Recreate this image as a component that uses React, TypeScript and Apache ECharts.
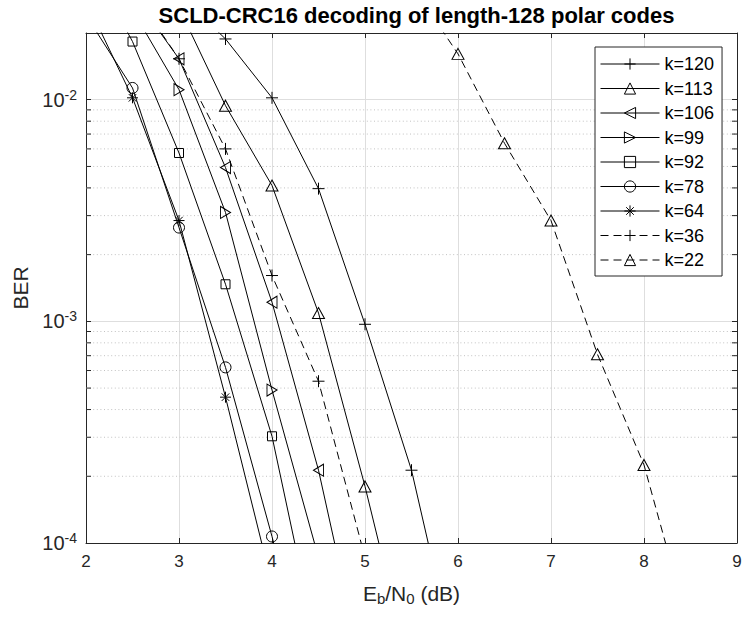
import React, { useEffect, useRef } from 'react';
import * as echarts from 'echarts';

// ---- data ----
const names = ['k=120', 'k=113', 'k=106', 'k=99', 'k=92', 'k=78', 'k=64', 'k=36', 'k=22'];

const ebn0_120 = [3, 3.5, 4, 4.5, 5, 5.5, 6];
const ber_120 = [0.03, 0.0188, 0.0102, 0.00397, 0.00097, 2.13e-4, 2.6e-5];

const ebn0_113 = [3, 3.5, 4, 4.5, 5, 5.5];
const ber_113 = [0.026, 0.0094, 0.0041, 0.00109, 1.8e-4, 2.5e-5];

const ebn0_106 = [2.5, 3, 3.5, 4, 4.5, 5];
const ber_106 = [0.03, 0.0153, 0.00494, 0.00122, 2.13e-4, 2.4e-5];

const ebn0_99 = [2.5, 3, 3.5, 4, 4.5];
const ber_99 = [0.0254, 0.0111, 0.0031, 4.9e-4, 8.6e-5];

const ebn0_92 = [2, 2.5, 3, 3.5, 4, 4.5];
const ber_92 = [0.045, 0.0183, 0.00575, 0.00147, 3.03e-4, 3.15e-5];

const ebn0_78 = [2, 2.5, 3, 3.5, 4, 4.5];
const ber_78 = [0.024, 0.0113, 0.00265, 6.2e-4, 1.07e-4, 1.6e-5];

const ebn0_64 = [2, 2.5, 3, 3.5, 4];
const ber_64 = [0.028, 0.0102, 0.00285, 4.55e-4, 6.5e-5];

const ebn0_36 = [2.5, 3, 3.5, 4, 4.5, 5];
const ber_36 = [0.031, 0.0153, 0.006, 0.00161, 5.37e-4, 8.6e-5];

const ebn0_22 = [5.5, 6, 6.5, 7, 7.5, 8, 8.5];
const ber_22 = [0.033, 0.0161, 0.00636, 0.00285, 7.1e-4, 2.25e-4, 3.9e-5];

// axis ranges
const X_MIN = 2;
const X_MAX = 9;
const Y_MIN = 1e-4;
const Y_MAX = 0.02;

// minor log ticks (2..9 x decade)
const decades = [1e-4, 1e-3, 1e-2];
const minorMultipliers = [2, 3, 4, 5, 6, 7, 8, 9];

const FONT = '"Liberation Sans", Arial, Helvetica, sans-serif';
const AX = '#262626';

const PLUS = 'path://M0,5L10,5M5,0L5,10';
const TRI_UP = 'path://M5,0L10,9L0,9Z';
const TRI_LEFT = 'path://M0,5L9,0L9,10Z';
const TRI_RIGHT = 'path://M9,5L0,0L0,10Z';
const STAR = 'path://M5,0L5,10M0,5L10,5M1.6,1.6L8.4,8.4M1.6,8.4L8.4,1.6';

const seriesDefs = [
  { name: names[0], x: ebn0_120, y: ber_120, symbol: PLUS, size: 12, dashed: false },
  { name: names[1], x: ebn0_113, y: ber_113, symbol: TRI_UP, size: [12, 11], dashed: false },
  { name: names[2], x: ebn0_106, y: ber_106, symbol: TRI_LEFT, size: [10, 12], dashed: false },
  { name: names[3], x: ebn0_99, y: ber_99, symbol: TRI_RIGHT, size: [10, 12], dashed: false },
  { name: names[4], x: ebn0_92, y: ber_92, symbol: 'rect', size: 9, dashed: false },
  { name: names[5], x: ebn0_78, y: ber_78, symbol: 'circle', size: 11, dashed: false },
  { name: names[6], x: ebn0_64, y: ber_64, symbol: STAR, size: 11, dashed: false },
  { name: names[7], x: ebn0_36, y: ber_36, symbol: PLUS, size: 12, dashed: true },
  { name: names[8], x: ebn0_22, y: ber_22, symbol: TRI_UP, size: [12, 11], dashed: true },
];

function logLabel(v: number): string {
  const l = Math.log10(v);
  const e = Math.round(l);
  if (Math.abs(l - e) > 1e-6) return '';
  return `{b|10}{s|${e}}`;
}

export default function App() {
  const ref = useRef<HTMLDivElement>(null);

  useEffect(() => {
    if (!ref.current) return;
    const chart = echarts.init(ref.current, undefined, { renderer: 'svg' });

    const minorVals: number[] = [];
    decades.forEach((d) => minorMultipliers.forEach((m) => {
      const v = d * m;
      if (v < Y_MAX * 0.999) minorVals.push(v);
    }));
    const TICK_PX = 5;

    const lineSeries = seriesDefs.map((s) => ({
      type: 'line',
      name: s.name,
      data: s.x.map((xv, i) => [xv, s.y[i]]),
      symbol: s.symbol,
      symbolSize: s.size,
      showAllSymbol: true,
      clip: true,
      z: 5,
      lineStyle: { color: '#000', width: 1, type: s.dashed ? [8, 5] : 'solid' },
      itemStyle: { color: 'rgba(0,0,0,0)', borderColor: '#000', borderWidth: 1 },
      emphasis: { disabled: true },
    }));

    // minor log grid lines + minor ticks drawn through the axis scales
    const minorSeries = {
      type: 'custom',
      name: '_minor',
      silent: true,
      z: 1,
      data: minorVals.map((v) => [X_MIN, v]),
      encode: { x: 0, y: 1 },
      renderItem: (params: any, api: any) => {
        const v = api.value(1);
        const a = api.coord([X_MIN, v]);
        const b = api.coord([X_MAX, v]);
        return {
          type: 'group',
          children: [
            {
              type: 'line',
              shape: { x1: a[0], y1: a[1], x2: b[0], y2: b[1] },
              style: { stroke: '#c2c2c2', lineWidth: 1, lineDash: [1, 2.6] },
            },
            {
              type: 'line',
              shape: { x1: a[0], y1: a[1], x2: a[0] + TICK_PX, y2: a[1] },
              style: { stroke: AX, lineWidth: 1 },
            },
            {
              type: 'line',
              shape: { x1: b[0], y1: b[1], x2: b[0] - TICK_PX, y2: b[1] },
              style: { stroke: AX, lineWidth: 1 },
            },
          ],
        };
      },
    };

    chart.setOption({
      animation: false,
      backgroundColor: '#fff',
      textStyle: { fontFamily: FONT },
      title: {
        text: 'SCLD-CRC16 decoding of length-128 polar codes',
        left: 411.5,
        top: -1,
        textAlign: 'center',
        textStyle: { fontFamily: FONT, fontSize: 22, fontWeight: 'bold', color: '#000' },
      },
      grid: { left: 86, right: 8, top: 33, bottom: 75, containLabel: false },
      legend: {
        data: names,
        orient: 'vertical',
        left: 595,
        top: 47,
        itemWidth: 59,
        itemHeight: 14,
        itemGap: 4.5,
        padding: [7, 8, 6, 5],
        backgroundColor: '#fff',
        borderColor: AX,
        borderWidth: 1,
        borderRadius: 0,
        selectedMode: false,
        itemStyle: { borderWidth: 1 },
        lineStyle: { width: 1 },
        textStyle: { fontFamily: FONT, fontSize: 18, color: '#000', lineHeight: 20 },
      },
      xAxis: [
        {
          type: 'value',
          min: X_MIN,
          max: X_MAX,
          interval: 1,
          name: '{n|E}{s|b}{n|/N}{s|0}{n| (dB)}',
          nameLocation: 'middle',
          nameGap: 37,
          nameTextStyle: {
            rich: {
              n: { fontFamily: FONT, fontSize: 21, color: AX },
              s: { fontFamily: FONT, fontSize: 15, color: AX, padding: [11, 0, 0, 0] },
            },
          },
          axisLine: { show: true, onZero: false, lineStyle: { color: AX, width: 1 } },
          axisTick: { show: true, inside: true, length: 5, lineStyle: { color: AX } },
          axisLabel: { fontFamily: FONT, fontSize: 17, color: AX, margin: 10 },
          splitLine: { show: true, lineStyle: { color: '#dedede', width: 1 } },
        },
        {
          type: 'value',
          position: 'top',
          min: X_MIN,
          max: X_MAX,
          interval: 1,
          axisLine: { show: true, onZero: false, lineStyle: { color: AX, width: 1 } },
          axisTick: { show: true, inside: true, length: 5, lineStyle: { color: AX } },
          axisLabel: { show: false },
          splitLine: { show: false },
        },
      ],
      yAxis: [
        {
          type: 'log',
          logBase: 10,
          min: Y_MIN,
          max: Y_MAX,
          name: 'BER',
          nameLocation: 'middle',
          nameGap: 48,
          nameTextStyle: { fontFamily: FONT, fontSize: 21, color: AX },
          axisLine: { show: true, onZero: false, lineStyle: { color: AX, width: 1 } },
          axisTick: { show: true, inside: true, length: 5, lineStyle: { color: AX } },
          axisLabel: {
            formatter: logLabel,
            margin: 9,
            rich: {
              b: { fontFamily: FONT, fontSize: 20, color: AX },
              s: { fontFamily: FONT, fontSize: 14, color: AX, padding: [0, 0, 10, 0] },
            },
          },
          splitLine: { show: true, lineStyle: { color: '#dedede', width: 1 } },
        },
        {
          type: 'log',
          logBase: 10,
          min: Y_MIN,
          max: Y_MAX,
          position: 'right',
          axisLine: { show: true, onZero: false, lineStyle: { color: AX, width: 1 } },
          axisTick: { show: true, inside: true, length: 5, lineStyle: { color: AX } },
          axisLabel: { show: false },
          splitLine: { show: false },
        },
      ],
      series: [minorSeries, ...lineSeries],
    });

    return () => chart.dispose();
  }, []);

  return (
    <div
      ref={ref}
      style={{ position: 'fixed', left: 0, top: 0, width: 745, height: 618, background: '#fff' }}
    />
  );
}
